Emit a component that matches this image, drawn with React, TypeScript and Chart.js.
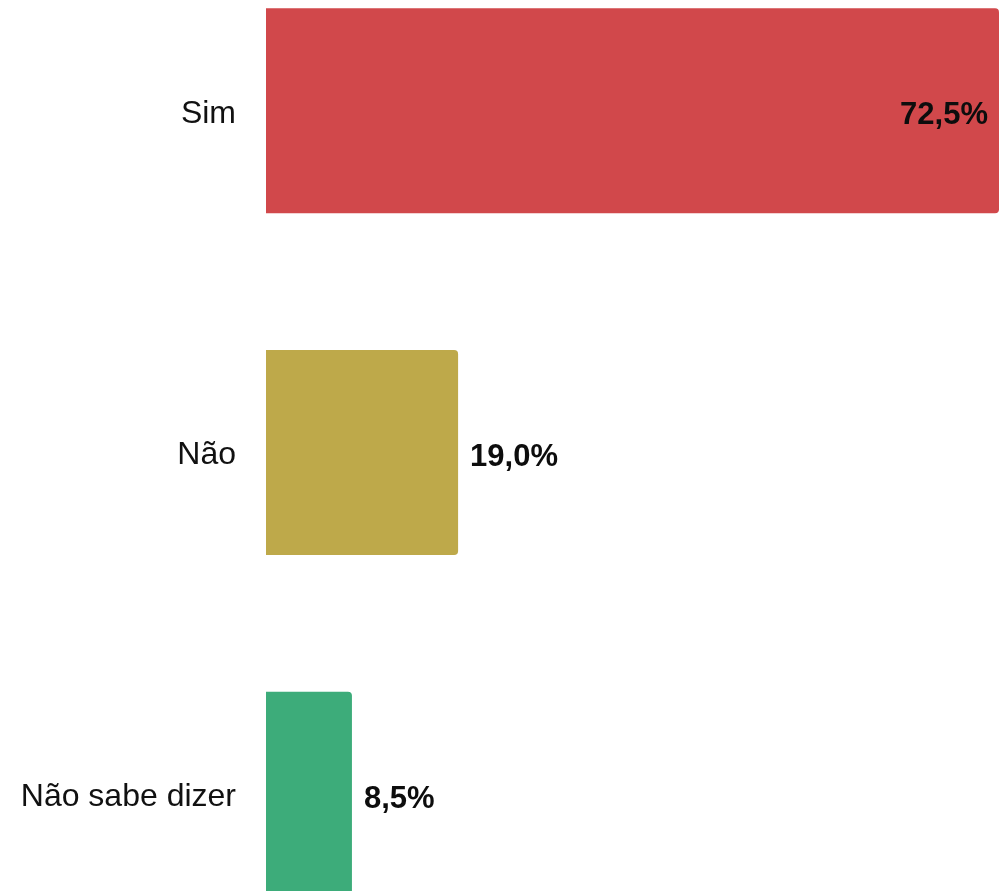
import React, { useEffect, useRef } from "react";
import { Chart, registerables } from "chart.js";

Chart.register(...registerables);

const categories = ["Sim", "Não", "Não sabe dizer"];
const values = [72.5, 19.0, 8.5];
const barColors = ["#d1484b", "#bea94a", "#3dac7a"];

const FONT = "'Liberation Sans', Arial, sans-serif";

const valueLabels = {
  id: "valueLabels",
  afterDatasetsDraw(chart: any) {
    const ctx = chart.ctx;
    const area = chart.chartArea;
    const meta = chart.getDatasetMeta(0);
    ctx.save();
    ctx.font = `bold 31px ${FONT}`;
    ctx.fillStyle = "#0d0d0d";
    ctx.textBaseline = "middle";
    meta.data.forEach((bar: any, i: number) => {
      const text = values[i].toFixed(1).replace(".", ",") + "%";
      const w = ctx.measureText(text).width;
      if (bar.x + 12 + w > area.right) {
        ctx.textAlign = "right";
        ctx.fillText(text, bar.x - 11, bar.y + 5);
      } else {
        ctx.textAlign = "left";
        ctx.fillText(text, bar.x + 12, bar.y + 5);
      }
    });
    ctx.restore();
  },
};

export default function App() {
  const ref = useRef<HTMLCanvasElement | null>(null);
  useEffect(() => {
    if (!ref.current) return;
    const chart = new Chart(ref.current, {
      type: "bar",
      data: {
        labels: categories,
        datasets: [
          {
            data: values,
            backgroundColor: barColors,
            borderRadius: 4,
            categoryPercentage: 0.8,
            barPercentage: 0.75,
          },
        ],
      },
      options: {
        indexAxis: "y",
        animation: false,
        responsive: false,
        layout: { padding: 0 },
        plugins: {
          legend: { display: false },
          tooltip: { enabled: false },
        },
        scales: {
          x: {
            display: false,
            min: 0,
            max: 72.5,
          },
          y: {
            grid: { display: false, drawTicks: false },
            border: { display: false },
            ticks: {
              padding: 30,
              labelOffset: 3,
              color: "#111",
              font: { family: FONT, size: 32 },
            },
            afterFit(scale: any) {
              scale.width = 258;
              scale.paddingTop = 0;
              scale.paddingBottom = 0;
            },
          },
        },
      },
      plugins: [valueLabels],
    });
    return () => chart.destroy();
  }, []);
  return (
    <div style={{ position: "relative", top: -68 }}>
      <canvas
        ref={ref}
        width={991}
        height={1025}
        style={{ display: "block", width: 991, height: 1025 }}
      />
    </div>
  );
}
